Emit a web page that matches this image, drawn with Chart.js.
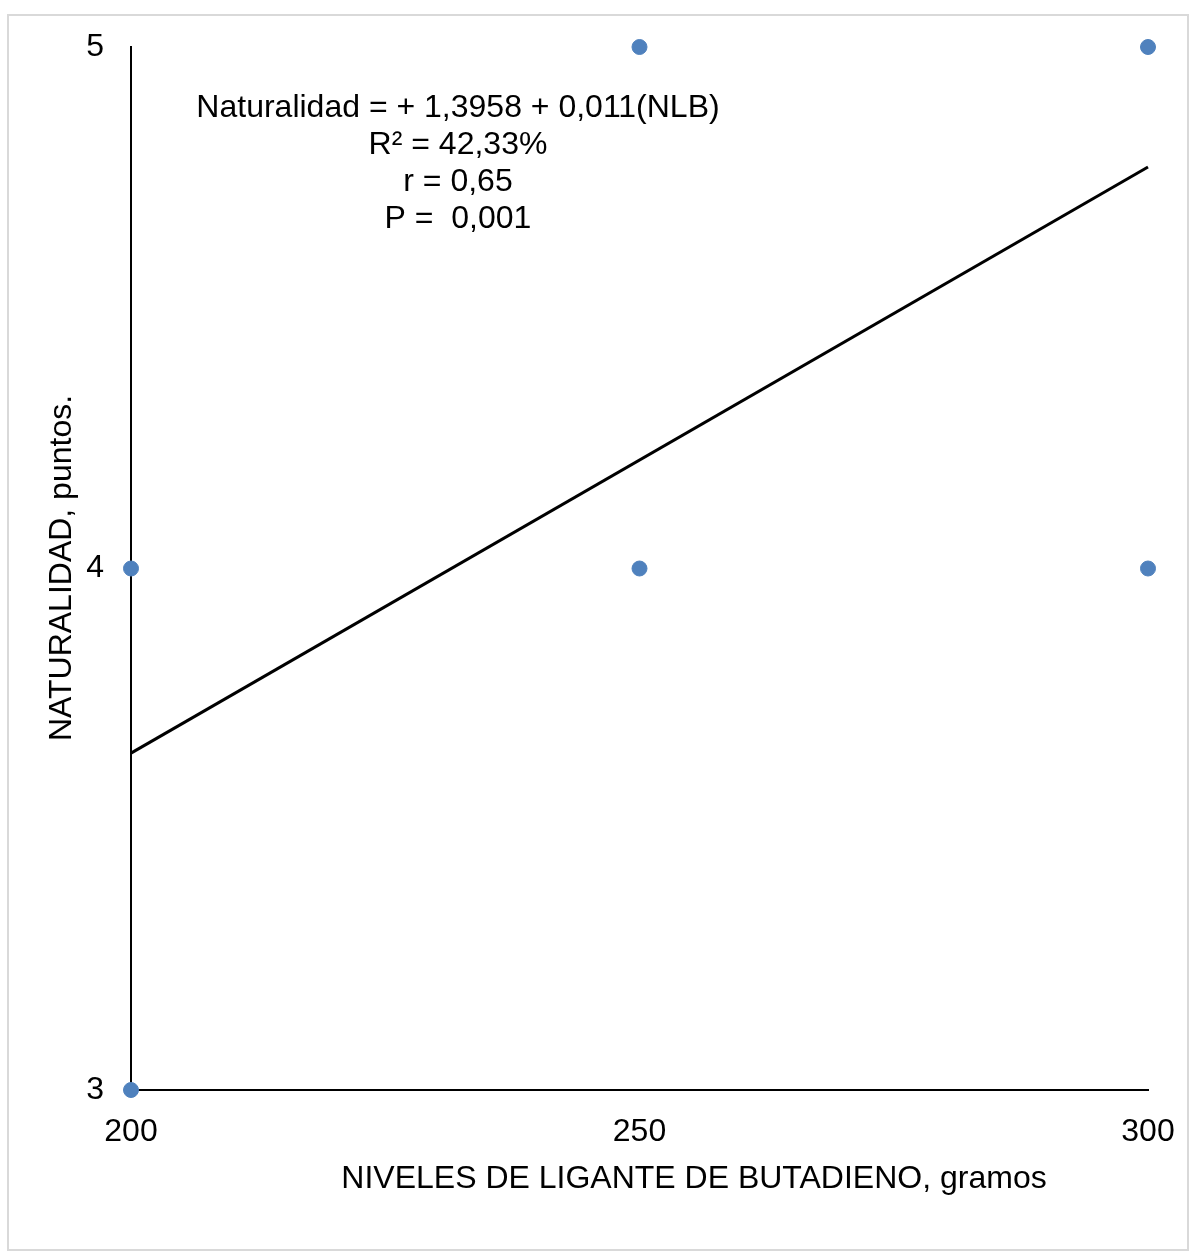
<!DOCTYPE html>
<html>
<head>
<meta charset="utf-8">
<script src="https://cdn.jsdelivr.net/npm/chart.js@4.4.1/dist/chart.umd.min.js"></script>
<style>
    html, body { margin: 0; padding: 0; background: #ffffff; }
    #wrap { position: relative; width: 1194px; height: 1253px; }
</style>
</head>
<body>
<div id="wrap"><canvas id="naturalidadChart"></canvas></div>
<script>
// Observed points (NLB, gramos -> naturalidad, puntos)
var nlbLevels = [200, 200, 250, 250, 300, 300];
var naturalidad = [3, 4, 4, 5, 4, 5];

// Trendline end points
var trendX = [200, 300];
var trendY = [3.646, 4.77];

var xTicks = [200, 250, 300];
var yTicks = [3, 4, 5];

var xTitle = 'NIVELES DE LIGANTE DE BUTADIENO, gramos';
var yTitle = 'NATURALIDAD, puntos.';
var equationLines = [
    'Naturalidad = + 1,3958 + 0,011(NLB)',
    'R\u00b2 = 42,33%',
    'r = 0,65',
    'P =  0,001'
];

var fontFamily = '"Liberation Sans", Arial, sans-serif';

// Draws the frame, axis titles and the regression text box
var textPlugin = {
    id: 'textPlugin',
    beforeDraw: function(chart) {
        var ctx = chart.ctx;
        ctx.save();
        ctx.strokeStyle = '#d9d9d9';
        ctx.lineWidth = 2;
        ctx.strokeRect(8, 15, 1180, 1235);
        ctx.restore();
    },
    afterDraw: function(chart) {
        var ctx = chart.ctx;
        ctx.save();
        ctx.fillStyle = '#000000';
        ctx.textAlign = 'center';
        ctx.textBaseline = 'middle';
        ctx.font = '32px ' + fontFamily;

        // x axis title
        ctx.fillText(xTitle, 694, 1179);

        // y axis title (rotated)
        ctx.save();
        ctx.translate(62, 568);
        ctx.rotate(-Math.PI / 2);
        ctx.fillText(yTitle, 0, 0);
        ctx.restore();

        // regression equation
        equationLines.forEach(function(line, i) {
            ctx.fillText(line, 458, 108 + i * 37);
        });
        ctx.restore();
    }
};

var ctx = document.getElementById('naturalidadChart').getContext('2d');
new Chart(ctx, {
    type: 'scatter',
    data: {
        datasets: [
            {
                type: 'line',
                label: 'Tendencia',
                data: trendX.map(function(x, i) { return { x: x, y: trendY[i] }; }),
                borderColor: '#000000',
                borderWidth: 3,
                pointRadius: 0,
                fill: false,
                clip: false,
                order: 2
            },
            {
                label: 'Naturalidad',
                data: nlbLevels.map(function(x, i) { return { x: x, y: naturalidad[i] }; }),
                backgroundColor: '#4f81bd',
                borderColor: '#4f81bd',
                pointRadius: 7.5,
                clip: false,
                order: 1
            }
        ]
    },
    options: {
        responsive: true,
        maintainAspectRatio: false,
        animation: false,
        layout: {
            padding: { left: 0, right: 46, top: 47, bottom: 0 }
        },
        plugins: {
            legend: { display: false },
            tooltip: { enabled: false }
        },
        scales: {
            x: {
                type: 'linear',
                min: 200,
                max: 300,
                afterBuildTicks: function(scale) {
                    scale.ticks = xTicks.map(function(v) { return { value: v }; });
                },
                afterFit: function(scale) {
                    scale.height = 163;
                    scale.paddingLeft = 0;
                    scale.paddingRight = 0;
                },
                grid: { display: false, drawTicks: false },
                border: { display: true, color: '#000000', width: 2 },
                ticks: {
                    color: '#000000',
                    padding: 23,
                    maxRotation: 0,
                    font: { family: fontFamily, size: 32 }
                }
            },
            y: {
                type: 'linear',
                min: 3,
                max: 5,
                afterBuildTicks: function(scale) {
                    scale.ticks = yTicks.map(function(v) { return { value: v }; });
                },
                afterFit: function(scale) {
                    scale.width = 131;
                    scale.paddingTop = 0;
                    scale.paddingBottom = 0;
                },
                grid: { display: false, drawTicks: false },
                border: { display: true, color: '#000000', width: 2 },
                ticks: {
                    color: '#000000',
                    padding: 27,
                    font: { family: fontFamily, size: 32 }
                }
            }
        }
    },
    plugins: [textPlugin]
});
</script>
</body>
</html>
